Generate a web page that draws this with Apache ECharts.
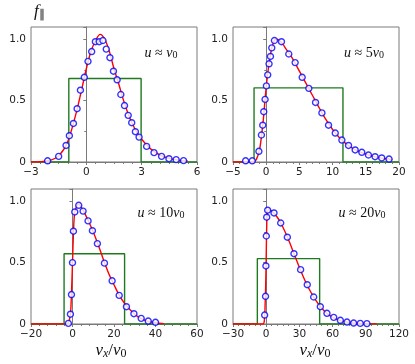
<!DOCTYPE html>
<html>
<head>
<meta charset="utf-8">
<title>f parallel</title>
<script src="https://cdn.jsdelivr.net/npm/echarts@6/dist/echarts.min.js"></script>
<style>
  html, body { margin: 0; padding: 0; background: #fff; }
  #chart { width: 415px; height: 364px; }
</style>
</head>
<body>
<div id="chart"></div>
<script>
// panel 1: u ~ v0
var dotsX1 = [-2.1, -1.5, -1.1, -0.92, -0.7, -0.5, -0.32, -0.11, 0.09, 0.29, 0.49, 0.7, 0.9, 1.08, 1.28, 1.47, 1.67, 1.87, 2.07, 2.27, 2.46, 2.66, 2.86, 3.27, 3.67, 4.08, 4.48, 4.87, 5.27];
var dotsY1 = [0.01, 0.046, 0.135, 0.214, 0.314, 0.434, 0.585, 0.69, 0.82, 0.9, 0.98, 0.98, 0.99, 0.92, 0.85, 0.74, 0.67, 0.55, 0.46, 0.38, 0.32, 0.247, 0.203, 0.127, 0.076, 0.046, 0.027, 0.019, 0.011];
var curveX1 = [-3, -2.5, -2, -1.5, -1, -0.5, 0, 0.25, 0.5, 0.75, 1, 1.25, 1.5, 1.75, 2, 2.25, 2.5, 2.75, 3, 3.5, 4, 4.5, 5, 5.5];
var curveY1 = [0, 0.002, 0.012, 0.05, 0.17, 0.43, 0.76, 0.9, 0.99, 1.04, 1.0, 0.9, 0.76, 0.64, 0.51, 0.4, 0.31, 0.24, 0.185, 0.105, 0.057, 0.03, 0.015, 0.007];
var box1 = [-0.95, 2.97, 0.68];

// panel 2: u ~ 5 v0
var dotsX2 = [-3.1, -2.1, -1.1, -0.72, -0.52, -0.37, -0.17, 0.03, 0.23, 0.43, 0.64, 0.84, 1.24, 2.3, 3.4, 4.36, 5.42, 6.42, 7.43, 8.39, 9.39, 10.4, 11.4, 12.4, 13.4, 14.4, 15.4, 16.4, 17.4, 18.5];
var dotsY2 = [0.01, 0.01, 0.087, 0.22, 0.3, 0.41, 0.51, 0.62, 0.71, 0.8, 0.86, 0.93, 0.99, 0.98, 0.88, 0.81, 0.69, 0.6, 0.485, 0.4, 0.3, 0.236, 0.179, 0.135, 0.098, 0.079, 0.057, 0.043, 0.033, 0.024];
var curveX2 = [-5, -2, -1.5, -1, -0.5, 0, 0.5, 1, 1.5, 2, 2.5, 3, 4, 5, 6, 7, 8, 9, 10, 11, 12, 13, 14, 15, 16, 17, 18, 19];
var curveY2 = [0, 0, 0.02, 0.1, 0.31, 0.61, 0.83, 0.96, 1.0, 0.99, 0.96, 0.92, 0.84, 0.74, 0.64, 0.54, 0.44, 0.345, 0.265, 0.2, 0.15, 0.112, 0.085, 0.065, 0.048, 0.036, 0.027, 0.02];
var box2 = [-1.83, 11.56, 0.604];

// panel 3: u ~ 10 v0
var dotsX3 = [-2.0, -1.0, -0.5, 0, 0.44, 1.1, 3.0, 5.1, 7.5, 9.6, 12.0, 15.4, 19.1, 22.5, 26.0, 29.6, 33.1, 36.5, 40.0];
var dotsY3 = [0.005, 0.08, 0.24, 0.5, 0.756, 0.913, 0.967, 0.92, 0.84, 0.76, 0.655, 0.496, 0.352, 0.233, 0.141, 0.084, 0.046, 0.024, 0.014];
var curveX3 = [-20, -3, -2, -1, -0.5, 0, 0.5, 1, 2, 3, 5, 7.5, 10, 12.5, 15, 17.5, 20, 22.5, 25, 27.5, 30, 32.5, 35, 37.5, 40, 44];
var curveY3 = [0, 0, 0.01, 0.08, 0.25, 0.5, 0.76, 0.9, 0.96, 0.975, 0.93, 0.845, 0.75, 0.64, 0.52, 0.41, 0.32, 0.235, 0.17, 0.12, 0.08, 0.05, 0.03, 0.018, 0.01, 0.003];
var box3 = [-4.06, 25.1, 0.572];

// panel 4: u ~ 20 v0
var dotsX4 = [-1.4, -0.6, -0.25, 0.1, 0.45, 1.33, 7.05, 13.1, 19.1, 25.1, 31.1, 37.1, 42.9, 48.9, 54.9, 61.0, 67.0, 73.0, 79.0, 85.0, 91.0];
var dotsY4 = [0.073, 0.226, 0.473, 0.717, 0.87, 0.927, 0.905, 0.823, 0.707, 0.573, 0.443, 0.32, 0.22, 0.141, 0.087, 0.054, 0.03, 0.016, 0.008, 0.005, 0.003];
var curveX4 = [-30, -3, -1.5, -1, -0.5, 0, 0.5, 1, 2, 5, 10, 15, 20, 25, 30, 35, 40, 45, 50, 55, 60, 65, 70, 80, 90, 100];
var curveY4 = [0, 0, 0.05, 0.15, 0.3, 0.55, 0.82, 0.9, 0.93, 0.92, 0.87, 0.79, 0.69, 0.575, 0.46, 0.355, 0.265, 0.19, 0.13, 0.085, 0.055, 0.035, 0.02, 0.008, 0.003, 0.001];
var box4 = [-8.0, 48.3, 0.533];

var xRanges = [[-3, 6, 3, 6], [-5, 20, 5, 5], [-20, 60, 20, 5], [-30, 120, 30, 6]];
var yTicks = [0, 0.5, 1.0];
var uLabels = ['', '5', '10', '20'];

var panels = [
  [dotsX1, dotsY1, curveX1, curveY1, box1],
  [dotsX2, dotsY2, curveX2, curveY2, box2],
  [dotsX3, dotsY3, curveX3, curveY3, box3],
  [dotsX4, dotsY4, curveX4, curveY4, box4]
];

var gridPos = [
  { left: 31, top: 27 },
  { left: 233, top: 27 },
  { left: 31, top: 189 },
  { left: 233, top: 189 }
];

function zip(xs, ys) {
  var out = [];
  for (var i = 0; i < xs.length; i++) out.push([xs[i], ys[i]]);
  return out;
}

var grids = [], xAxes = [], yAxes = [], series = [];
var axisColor = '#7a7a7a';

for (var k = 0; k < 4; k++) {
  grids.push({
    left: gridPos[k].left, top: gridPos[k].top, width: 166, height: 135,
    show: true, borderColor: axisColor, borderWidth: 1, backgroundColor: 'transparent'
  });
  var r = xRanges[k];
  xAxes.push({
    type: 'value', gridIndex: k, min: r[0], max: r[1], interval: r[2],
    axisLine: { show: true, onZero: false, lineStyle: { color: axisColor, width: 1 } },
    axisTick: { show: true, inside: false, length: 3, lineStyle: { color: axisColor } },
    minorTick: { show: true, splitNumber: r[3], length: 2, lineStyle: { color: axisColor } },
    splitLine: { show: false },
    axisLabel: {
      color: '#222', fontSize: 10.5, fontFamily: 'DejaVu Sans', margin: 5,
      formatter: function (v) { return String(v).replace('-', '\u2212'); }
    }
  });
  yAxes.push({
    type: 'value', gridIndex: k, min: 0, max: 1.1, interval: 0.5,
    axisLine: { show: true, lineStyle: { color: axisColor, width: 1 } },
    axisTick: { show: true, inside: false, length: 3, lineStyle: { color: axisColor } },
    minorTick: { show: true, splitNumber: 2, length: 2, lineStyle: { color: axisColor } },
    splitLine: { show: false },
    axisLabel: {
      color: '#222', fontSize: 10.5, fontFamily: 'DejaVu Sans', margin: 5, showMaxLabel: false,
      formatter: function (v) {
        if (yTicks.indexOf(v) < 0) return '';
        return v === 0 ? '0' : v.toFixed(1);
      }
    }
  });

  var p = panels[k];
  var b = p[4];
  series.push({
    type: 'line', xAxisIndex: k, yAxisIndex: k, symbol: 'none', silent: true,
    lineStyle: { color: '#1f7a1f', width: 1.4 },
    data: [[r[0], 0], [b[0], 0], [b[0], b[2]], [b[1], b[2]], [b[1], 0], [r[1], 0]],
    z: 1
  });
  series.push({
    type: 'line', xAxisIndex: k, yAxisIndex: k, symbol: 'none', smooth: 0.3, silent: true,
    lineStyle: { color: '#ff0000', width: 1.4 },
    data: zip(p[2], p[3]),
    z: 2
  });
  series.push({
    type: 'scatter', xAxisIndex: k, yAxisIndex: k, symbol: 'circle', symbolSize: 6,
    itemStyle: { color: '#ffffff', borderColor: '#0000ff', borderWidth: 1.4 },
    data: zip(p[0], p[1]),
    z: 3
  });
}

var mathFont = 'Liberation Serif';
var rich = {
  i: { fontFamily: mathFont, fontStyle: 'italic', fontSize: 14, fill: '#111' },
  n: { fontFamily: mathFont, fontSize: 14, fill: '#111' },
  s: { fontFamily: mathFont, fontSize: 10, fill: '#111', padding: [5, 0, 0, 0] }
};
var richBig = {
  i: { fontFamily: mathFont, fontStyle: 'italic', fontSize: 17, fill: '#111' },
  n: { fontFamily: mathFont, fontSize: 17, fill: '#111' },
  s: { fontFamily: mathFont, fontSize: 12, fill: '#111', padding: [6, 0, 0, 0] },
  si: { fontFamily: mathFont, fontStyle: 'italic', fontSize: 12, fill: '#111', padding: [6, 0, 0, 0] }
};

var labelPos = [[161, 53], [364, 53], [161, 213], [362, 213]];
var graphics = [];
for (var j = 0; j < 4; j++) {
  graphics.push({
    type: 'text', x: labelPos[j][0], y: labelPos[j][1],
    style: { text: '{i|u}{n| \u2248 ' + uLabels[j] + '}{i|v}{s|0}', rich: rich, align: 'center', verticalAlign: 'middle' }
  });
}
graphics.push({
  type: 'text', left: 34, top: 3,
  style: { text: '{i|f}{s|\u2225}', rich: richBig }
});
graphics.push({
  type: 'text', x: 111, y: 351,
  style: { text: '{i|v}{si|x}{n|/}{i|v}{s|0}', rich: richBig, align: 'center', verticalAlign: 'middle' }
});
graphics.push({
  type: 'text', x: 315, y: 351,
  style: { text: '{i|v}{si|x}{n|/}{i|v}{s|0}', rich: richBig, align: 'center', verticalAlign: 'middle' }
});

var chart = echarts.init(document.getElementById('chart'), null, { renderer: 'canvas' });
chart.setOption({
  animation: false,
  backgroundColor: '#ffffff',
  grid: grids,
  xAxis: xAxes,
  yAxis: yAxes,
  series: series,
  graphic: graphics
});
</script>
</body>
</html>
